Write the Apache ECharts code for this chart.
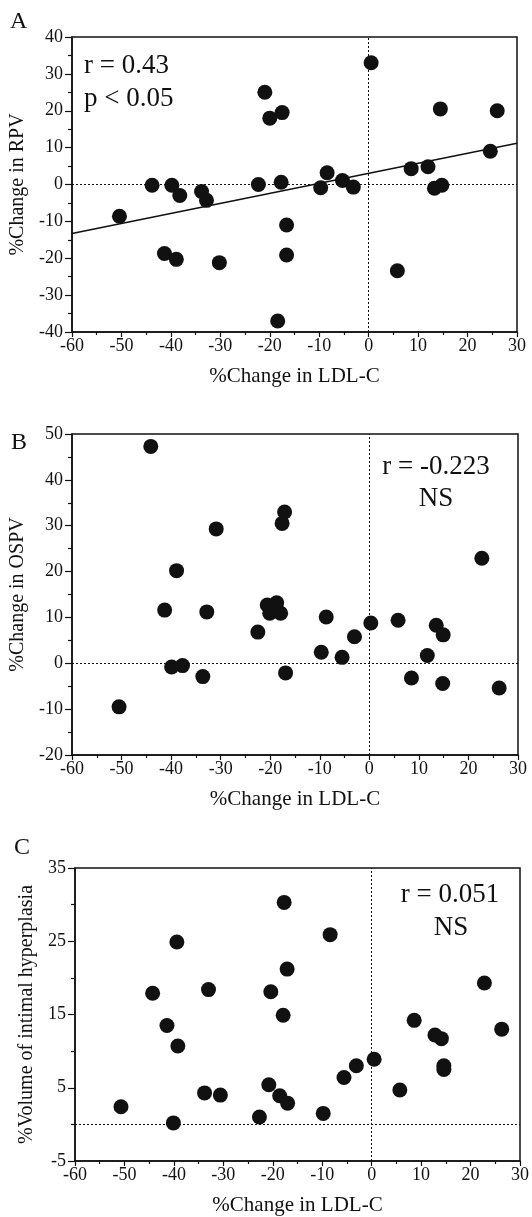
<!DOCTYPE html>
<html>
<head>
<meta charset="utf-8">
<script src="https://cdn.jsdelivr.net/npm/echarts@6/dist/echarts.min.js"></script>
<style>
  html, body { margin: 0; padding: 0; background: #fff; }
  #chart { width: 532px; height: 1217px; }
</style>
</head>
<body>
<div id="chart"></div>
<script>
// Panel A: %Change in RPV vs %Change in LDL-C
const ldlA = [0.5, -21, -20, -17.5, 14.5, 26, 24.6, 8.6, 12, 13.3, 14.8, -8.4, -5.3, -3.1, -9.7,
  -22.3, -17.7, -43.8, -39.8, -38.2, -33.8, -32.8, -50.4, -16.6, -41.3, -38.9, -30.2, -16.6, 5.8, -18.4];
const rpvA = [33, 25, 18, 19.5, 20.5, 20, 9, 4.3, 4.8, -1, -0.2, 3.2, 1.1, -0.7, -0.9,
  0, 0.6, -0.2, -0.2, -3, -1.9, -4.3, -8.6, -11, -18.7, -20.3, -21.2, -19.1, -23.4, -37];
const regX = [-60, 30];
const regY = [-13.3, 11.2];

// Panel B: %Change in OSPV
const ldlB = [-44.1, -30.9, -17.1, -17.6, -38.9, 22.7, -41.3, -32.8, -20.6, -18.7, -20.1, -17.9, -8.7, 0.3, 5.8,
  13.5, 14.9, -22.5, -3.0, -9.7, -5.5, 11.7, -39.9, -37.7, -33.6, -16.9, 8.5, 14.8, 26.2, -50.5];
const ospvB = [47.3, 29.3, 33, 30.5, 20.2, 22.9, 11.6, 11.2, 12.7, 13.2, 10.9, 10.9, 10.1, 8.8, 9.4,
  8.3, 6.2, 6.8, 5.8, 2.4, 1.3, 1.7, -0.8, -0.5, -2.9, -2.1, -3.2, -4.4, -5.4, -9.5];

// Panel C: %Volume of intimal hyperplasia
const ldlC = [-17.7, -39.4, -8.4, -17.1, -44.3, -33, -20.4, 22.8, -17.9, 8.6, -41.4, -39.2, 12.8, 14.1, 26.3,
  0.5, -3.1, -5.6, 14.6, 14.6, 5.7, -20.8, -33.8, -30.6, -18.6, -17, -50.7, -9.8, -22.7, -40.1];
const ihC = [30.3, 24.9, 25.9, 21.2, 17.9, 18.4, 18.1, 19.3, 14.9, 14.2, 13.5, 10.7, 12.2, 11.7, 13,
  8.9, 8, 6.4, 8, 7.5, 4.7, 5.4, 4.3, 4, 3.9, 2.9, 2.4, 1.5, 1, 0.2];

const xName = '%Change in LDL-C';
const yNames = ['%Change in RPV', '%Change in OSPV', '%Volume of intimal hyperplasia'];
const yRanges = [[-40, 40], [-20, 50], [-5, 35]];
const panelLetters = ['A', 'B', 'C'];

const FONT = "'Liberation Serif', 'Times New Roman', serif";
const INK = '#111';

const pairs = (xs, ys) => xs.map((x, i) => [x, ys[i]]);

const grids = [
  { left: 72, top: 37, width: 445, height: 295 },
  { left: 72, top: 434, width: 446, height: 321 },
  { left: 75, top: 868, width: 445, height: 294 }
];

const xAxes = grids.map((g, i) => ({
  type: 'value',
  gridIndex: i,
  min: -60, max: 30, interval: 10,
  name: xName,
  nameLocation: 'middle',
  nameGap: 34,
  nameTextStyle: { fontFamily: FONT, fontSize: 21, color: INK },
  axisLine: { show: true, onZero: false, lineStyle: { color: INK, width: 1.5 } },
  axisTick: { show: true, inside: false, length: 5, lineStyle: { color: INK, width: 1.2 } },
  minorTick: { show: true, splitNumber: 2, length: 3, lineStyle: { color: INK, width: 1.2 } },
  splitLine: { show: false },
  axisLabel: { fontFamily: FONT, fontSize: 18, color: INK, margin: 5 }
}));

const yNameGaps = [44, 41, 36];
const yAxes = grids.map((g, i) => ({
  type: 'value',
  gridIndex: i,
  min: yRanges[i][0], max: yRanges[i][1], interval: 10,
  name: yNames[i],
  nameLocation: 'middle',
  nameGap: yNameGaps[i],
  nameTextStyle: { fontFamily: FONT, fontSize: 20, color: INK },
  axisLine: { show: true, onZero: false, lineStyle: { color: INK, width: 1.5 } },
  axisTick: { show: true, inside: false, length: 7, lineStyle: { color: INK, width: 1.2 } },
  minorTick: { show: true, splitNumber: 2, length: 4, lineStyle: { color: INK, width: 1.2 } },
  splitLine: { show: false },
  axisLabel: { fontFamily: FONT, fontSize: 18, color: INK, margin: 9 }
}));

const zeroLines = {
  silent: true,
  z: 1,
  symbol: ['none', 'none'],
  label: { show: false },
  lineStyle: { color: INK, type: [2, 2], width: 1 },
  data: [{ xAxis: 0 }, { yAxis: 0 }]
};

const dots = (data, i) => ({
  type: 'scatter',
  xAxisIndex: i,
  yAxisIndex: i,
  data: data,
  symbol: 'circle',
  symbolSize: 15,
  z: 3,
  itemStyle: { color: INK, opacity: 1 },
  markLine: zeroLines
});

const textEl = (text, x, y, size, align) => ({
  type: 'text',
  x: x, y: y,
  style: {
    text: text,
    font: size + 'px ' + FONT,
    fill: INK,
    textAlign: align || 'left',
    textVerticalAlign: 'middle'
  }
});

const option = {
  animation: false,
  backgroundColor: '#fff',
  grid: grids.map(g => Object.assign({
    show: true, borderColor: INK, borderWidth: 1.5, backgroundColor: 'transparent', containLabel: false
  }, g)),
  xAxis: xAxes,
  yAxis: yAxes,
  series: [
    dots(pairs(ldlA, rpvA), 0),
    {
      type: 'line',
      xAxisIndex: 0,
      yAxisIndex: 0,
      data: pairs(regX, regY),
      symbol: 'none',
      z: 2,
      lineStyle: { color: INK, width: 1.6 }
    },
    dots(pairs(ldlB, ospvB), 1),
    dots(pairs(ldlC, ihC), 2)
  ],
  graphic: [
    textEl(panelLetters[0], 10, 22, 24),
    textEl(panelLetters[1], 11, 443, 24),
    textEl(panelLetters[2], 14, 848, 24),
    textEl('r = 0.43', 84, 66, 27),
    textEl('p < 0.05', 84, 99, 27),
    textEl('r = -0.223', 436, 467, 27, 'center'),
    textEl('NS', 436, 499, 27, 'center'),
    textEl('r = 0.051', 450, 895, 27, 'center'),
    textEl('NS', 451, 928, 27, 'center')
  ]
};

const chart = echarts.init(document.getElementById('chart'), null, { renderer: 'canvas' });
chart.setOption(option);
</script>
</body>
</html>
